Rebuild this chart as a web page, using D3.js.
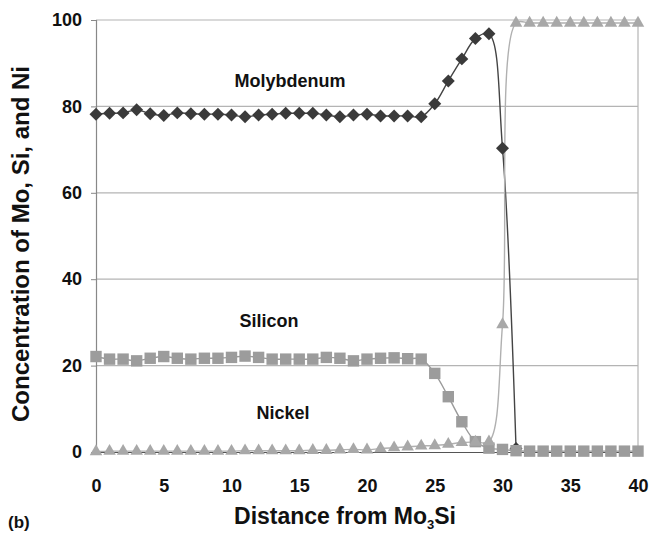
<!DOCTYPE html>
<html>
<head>
<meta charset="utf-8">
<script src="https://cdn.jsdelivr.net/npm/d3@7"></script>
<style>
  body { margin: 0; background: #fff; }
  text { font-family: "Liberation Sans", Arial, sans-serif; font-weight: bold; fill: #111; }
</style>
</head>
<body>
<div id="chart"></div>
<script>
// distance steps (0..40)
var distance = d3.range(0, 41);

// molybdenum (stops at 31)
var molybdenum = [78.2, 78.4, 78.5, 79.2, 78.3, 77.9, 78.5, 78.3, 78.2, 78.2,
  78.0, 77.6, 78.0, 78.2, 78.4, 78.4, 78.4, 78.0, 77.6, 78.0,
  78.2, 77.8, 77.8, 77.8, 77.6, 80.6, 85.9, 91.0, 95.7, 96.8,
  70.3, 0.8];

var silicon = [22.1, 21.5, 21.5, 21.1, 21.7, 22.1, 21.7, 21.5, 21.7, 21.7,
  21.9, 22.2, 21.9, 21.5, 21.5, 21.5, 21.5, 21.9, 21.7, 21.1,
  21.5, 21.7, 21.8, 21.6, 21.5, 18.2, 12.8, 7.0, 2.4, 0.9,
  0.6, 0.3, 0.2, 0.2, 0.2, 0.2, 0.2, 0.2, 0.2, 0.2, 0.2];

var nickel = [0.1, 0.2, 0.2, 0.2, 0.2, 0.2, 0.2, 0.2, 0.2, 0.2,
  0.2, 0.3, 0.3, 0.3, 0.3, 0.3, 0.4, 0.4, 0.5, 0.6,
  0.5, 0.8, 1.0, 1.2, 1.4, 1.5, 1.8, 2.2, 2.3, 2.4,
  29.5, 99.3, 99.3, 99.3, 99.3, 99.3, 99.3, 99.3, 99.3, 99.3, 99.3];

var xTicks = [0, 5, 10, 15, 20, 25, 30, 35, 40];
var yTicks = [0, 20, 40, 60, 80, 100];

var w = 652, h = 533;
var margin = { top: 20, right: 14, bottom: 81, left: 96 };

var svg = d3.select("#chart").append("svg")
  .attr("width", w)
  .attr("height", h);

var x = d3.scaleLinear().domain([0, 40]).range([margin.left, w - margin.right]);
var y = d3.scaleLinear().domain([0, 100]).range([h - margin.bottom, margin.top]);

// gridlines
svg.append("g")
  .selectAll("line")
  .data(yTicks.filter(function (d) { return d > 0; }))
  .enter().append("line")
  .attr("x1", x(0)).attr("x2", x(40))
  .attr("y1", function (d) { return y(d); })
  .attr("y2", function (d) { return y(d); })
  .attr("stroke", "#b4b4b4")
  .attr("stroke-width", 1.2);

// right border of the plot
svg.append("line")
  .attr("x1", x(40)).attr("x2", x(40))
  .attr("y1", y(100)).attr("y2", y(0))
  .attr("stroke", "#b4b4b4")
  .attr("stroke-width", 1.2);

// y axis
var yAxis = svg.append("g")
  .attr("transform", "translate(" + x(0) + ",0)")
  .call(d3.axisLeft(y).tickValues(yTicks).tickSize(5).tickPadding(9));
yAxis.select(".domain").attr("stroke", "#888").attr("stroke-width", 1.2);
yAxis.selectAll(".tick line").attr("stroke", "#888");
yAxis.selectAll("text").style("font-size", "18px").attr("fill", "#111");

// x axis
var xAxis = svg.append("g")
  .attr("transform", "translate(0," + y(0) + ")")
  .call(d3.axisBottom(x).tickValues(xTicks).tickSize(0).tickPadding(27));
xAxis.select(".domain").attr("stroke", "#555").attr("stroke-width", 1.2);
xAxis.selectAll("text").style("font-size", "18px").attr("fill", "#111");

var line = d3.line()
  .x(function (d, i) { return x(distance[i]); })
  .y(function (d) { return y(d); })
  .curve(d3.curveCatmullRom.alpha(0.5));

var series = [
  { name: "Mo", values: molybdenum, line: "#444", fill: "#3a3a3a", shape: "diamond" },
  { name: "Si", values: silicon, line: "#9a9a9a", fill: "#9c9c9c", shape: "square" },
  { name: "Ni", values: nickel, line: "#b0b0b0", fill: "#a8a8a8", shape: "triangle" }
];

series.forEach(function (s) {
  svg.append("path")
    .datum(s.values)
    .attr("fill", "none")
    .attr("stroke", s.line)
    .attr("stroke-width", 1.4)
    .attr("d", line);
});

series.forEach(function (s) {
  var sym;
  if (s.shape == "diamond") sym = d3.symbol().type(d3.symbolSquare).size(84);
  else if (s.shape == "square") sym = d3.symbol().type(d3.symbolSquare).size(130);
  else sym = d3.symbol().type(d3.symbolTriangle).size(68);

  svg.append("g")
    .selectAll("path")
    .data(s.values)
    .enter().append("path")
    .attr("d", sym)
    .attr("fill", s.fill)
    .attr("transform", function (d, i) {
      var t = "translate(" + x(distance[i]) + "," + y(d) + ")";
      if (s.shape == "diamond") t += " rotate(45)";
      return t;
    });
});

// series labels
svg.append("text").attr("x", 290).attr("y", 87).attr("text-anchor", "middle")
  .style("font-size", "18px").text("Molybdenum");
svg.append("text").attr("x", 269).attr("y", 327).attr("text-anchor", "middle")
  .style("font-size", "18px").text("Silicon");
svg.append("text").attr("x", 283).attr("y", 419).attr("text-anchor", "middle")
  .style("font-size", "18px").text("Nickel");

// axis titles
var xt = svg.append("text")
  .attr("x", 345).attr("y", 524)
  .attr("text-anchor", "middle")
  .style("font-size", "23px");
xt.append("tspan").text("Distance from Mo");
xt.append("tspan").attr("dy", 5).style("font-size", "13px").text("3");
xt.append("tspan").attr("dy", -5).text("Si");

svg.append("text")
  .attr("transform", "translate(29,244) rotate(-90)")
  .attr("text-anchor", "middle")
  .style("font-size", "24px")
  .text("Concentration of Mo, Si, and Ni");

svg.append("text")
  .attr("x", 8).attr("y", 528)
  .style("font-size", "17px")
  .text("(b)");
</script>
</body>
</html>
